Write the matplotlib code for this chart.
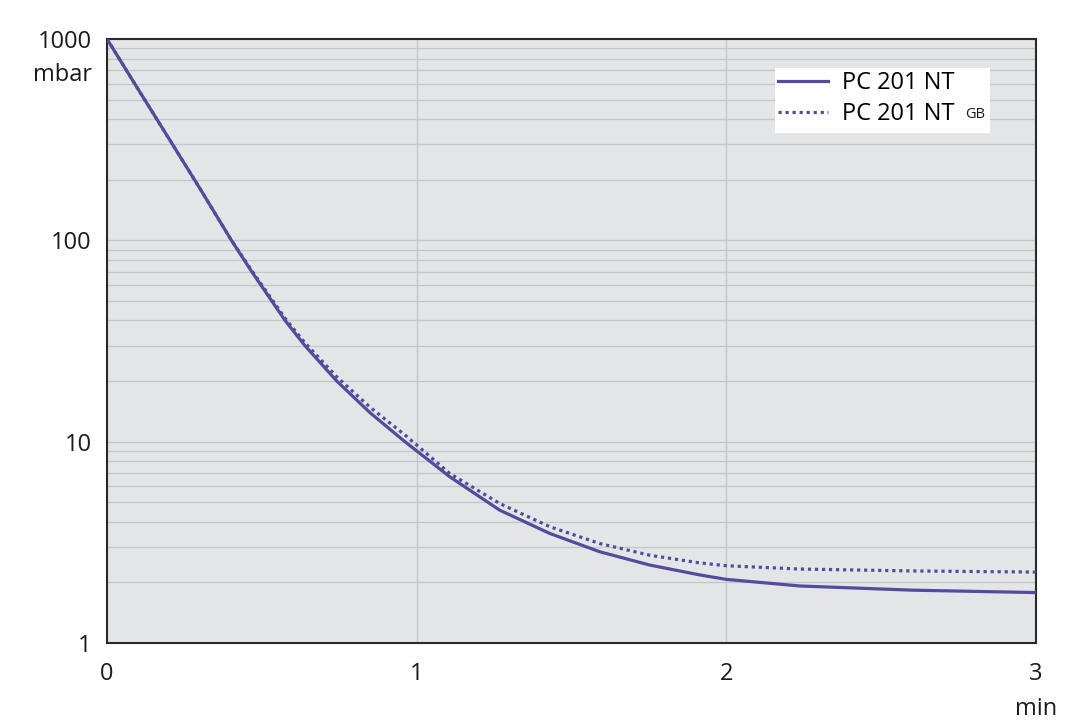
import numpy as np
import matplotlib
matplotlib.use("Agg")
import matplotlib.pyplot as plt
import matplotlib.ticker as mticker
from matplotlib.patches import Rectangle

# Data (time in min, pressure in mbar)
time_min = [0.0, 0.1, 0.2, 0.3, 0.4, 0.467, 0.532, 0.575, 0.639, 0.742, 0.85, 0.962,
            1.107, 1.268, 1.43, 1.591, 1.752, 1.913, 2.0, 2.237, 2.6, 3.0]
p_nt = [1000, 565, 320, 181, 101, 70, 50, 40, 30, 20, 13.9, 10,
        6.69, 4.57, 3.50, 2.84, 2.44, 2.18, 2.07, 1.92, 1.83, 1.78]
p_nt_gb = [1000, 565, 320, 181, 101, 71, 51, 41, 31, 21, 14.8, 10.8,
           6.95, 4.93, 3.78, 3.12, 2.73, 2.50, 2.42, 2.33, 2.28, 2.25]

x_ticks = [0, 1, 2, 3]
y_ticks = [1, 10, 100, 1000]

LINE_COLOR = "#514c9c"
AX_BG = "#e4e5e7"
GRID = "#c6c7c9"
TEXT = "#1a1a1a"
FS = 17

plt.rcParams["font.family"] = ["Open Sans", "DejaVu Sans"]

fig = plt.figure(figsize=(10.8, 7.21), dpi=100)
ax = fig.add_axes([107 / 1080, 1 - 643 / 721, (1036 - 107) / 1080, (643 - 39) / 721])
ax.set_facecolor(AX_BG)

ax.plot(time_min, p_nt, color=LINE_COLOR, lw=2.3, label="PC 201 NT", zorder=3)
ax.plot(time_min, p_nt_gb, color=LINE_COLOR, lw=2.3, linestyle=(0, (1, 1.2)),
        dash_capstyle="butt", label="PC 201 NT", zorder=3)

ax.set_yscale("log")
ax.set_xlim(0, 3)
ax.set_ylim(1, 1000)
ax.set_xticks(x_ticks)
ax.set_xticklabels([str(t) for t in x_ticks])
ax.set_yticks(y_ticks)
ax.set_yticklabels([str(t) for t in y_ticks])
ax.yaxis.set_minor_locator(mticker.LogLocator(base=10, subs=np.arange(2, 10)))
ax.yaxis.set_minor_formatter(mticker.NullFormatter())

ax.tick_params(axis="both", which="both", length=0, labelsize=FS, colors=TEXT)
ax.tick_params(axis="y", pad=11)
ax.tick_params(axis="x", pad=14)

ax.yaxis.grid(True, which="both", color=GRID, lw=1.0)
ax.xaxis.grid(True, which="major", color=GRID, lw=1.0)
ax.set_axisbelow(True)

for s in ax.spines.values():
    s.set_color("#2a2a2a")
    s.set_linewidth(1.5)

# Unit labels
ax.annotate("mbar", xy=(0, 1), xycoords="axes fraction", xytext=(-11, -26),
            textcoords="offset points", ha="right", va="center", fontsize=FS,
            color=TEXT)
ax.annotate("min", xy=(1, 0), xycoords="axes fraction", xytext=(0, -52),
            textcoords="offset points", ha="center", va="baseline", fontsize=FS,
            color=TEXT)

# Legend: white box drawn separately so the small "GB" fits inside
ax.add_patch(Rectangle((0.719, 0.844), 0.231, 0.108, transform=ax.transAxes,
                       facecolor="white", edgecolor="none", zorder=4))
leg = ax.legend(loc="upper left", bbox_to_anchor=(0.7223, 0.947), borderaxespad=0,
                fontsize=FS, frameon=False, handlelength=2.1,
                handletextpad=0.6, labelspacing=0.3, borderpad=0)
leg.set_zorder(5)

fig.canvas.draw()
bb = leg.get_texts()[1].get_window_extent()
fig.text((bb.x1 + 11) / 1080, (bb.y0 + 8.5) / 721, "GB", fontsize=10.5,
         color=TEXT, ha="left", va="baseline", zorder=6)

fig.savefig("out.png", dpi=100, facecolor="white")
